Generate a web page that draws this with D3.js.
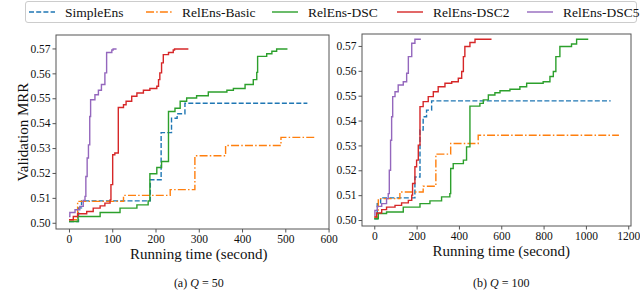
<!DOCTYPE html>
<html>
<head>
<meta charset="utf-8">
<script src="https://cdn.jsdelivr.net/npm/d3@7"></script>
<style>
  body { margin: 0; background: #fff; }
  svg { display: block; font-family: "Liberation Serif", "DejaVu Serif", serif; }
</style>
</head>
<body>
<div id="chart"></div>
<script>
const seriesNames = ["SimpleEns", "RelEns-Basic", "RelEns-DSC", "RelEns-DSC2", "RelEns-DSC5"];
const seriesColors = ["#1f77b4", "#ff7f0e", "#2ca02c", "#d62728", "#9467bd"];
const seriesDash = ["5,2.2", "8,2.2,1.5,2.2", null, null, null];

const yTicks = [0.50, 0.51, 0.52, 0.53, 0.54, 0.55, 0.56, 0.57];
const xTicksQ50 = [0, 100, 200, 300, 400, 500, 600];
const xTicksQ100 = [0, 200, 400, 600, 800, 1000, 1200];

// Q = 50, [running time, validation MRR]
const q50SimpleEns = [[0, 0.5005], [22, 0.506], [29, 0.5088], [188, 0.5173], [213, 0.5362], [237, 0.542], [250, 0.5438], [268, 0.548], [551, 0.548]];
const q50Basic = [[0, 0.5012], [20, 0.5086], [126, 0.511], [234, 0.5133], [291, 0.5269], [362, 0.531], [490, 0.5343], [569, 0.5343]];
const q50DSC = [[0, 0.5005], [21, 0.5025], [72, 0.5041], [118, 0.5059], [157, 0.5072], [183, 0.5088], [187, 0.5197], [203, 0.5222], [214, 0.5246], [230, 0.5447], [245, 0.546], [257, 0.5488], [272, 0.5501], [295, 0.551], [322, 0.5525], [365, 0.5532], [380, 0.5539], [407, 0.5555], [426, 0.5575], [434, 0.5604], [436, 0.5668], [457, 0.5679], [469, 0.5689], [480, 0.5698], [505, 0.5698]];
const q50DSC2 = [[0, 0.5012], [10, 0.5025], [20, 0.5036], [41, 0.5045], [56, 0.5059], [72, 0.5068], [83, 0.5079], [95, 0.5092], [97, 0.5153], [101, 0.5273], [106, 0.528], [114, 0.5463], [126, 0.5474], [132, 0.5488], [145, 0.5508], [157, 0.5521], [172, 0.5532], [187, 0.5539], [203, 0.5548], [207, 0.5575], [210, 0.5602], [214, 0.5642], [218, 0.5675], [230, 0.5684], [241, 0.5694], [244, 0.5698], [276, 0.5698]];
const q50DSC5 = [[0, 0.5025], [2, 0.5041], [14, 0.5052], [25, 0.5066], [33, 0.509], [37, 0.5106], [39, 0.5186], [42, 0.526], [45, 0.5313], [48, 0.5427], [50, 0.5494], [60, 0.5514], [68, 0.5532], [75, 0.5555], [83, 0.5602], [87, 0.5684], [99, 0.5694], [102, 0.5698], [110, 0.5698]];

// Q = 100
const q100SimpleEns = [[0, 0.5005], [14, 0.5066], [30, 0.5089], [192, 0.5173], [216, 0.5362], [231, 0.5415], [247, 0.5442], [271, 0.5479], [1117, 0.5479]];
const q100Basic = [[0, 0.5012], [19, 0.5086], [121, 0.5113], [231, 0.5136], [291, 0.5265], [361, 0.5308], [491, 0.5341], [1156, 0.5341]];
const q100DSC = [[0, 0.5005], [19, 0.5026], [58, 0.5032], [137, 0.5052], [216, 0.5066], [263, 0.5077], [318, 0.5093], [357, 0.5106], [361, 0.5207], [373, 0.5227], [421, 0.5241], [436, 0.5294], [452, 0.5458], [499, 0.5469], [515, 0.5483], [539, 0.5503], [570, 0.5512], [594, 0.552], [641, 0.5526], [688, 0.5536], [720, 0.555], [798, 0.5556], [830, 0.5577], [846, 0.5597], [858, 0.5657], [877, 0.5698], [932, 0.5708], [956, 0.5727], [1011, 0.5727]];
const q100DSC2 = [[0, 0.5012], [11, 0.5028], [35, 0.5042], [58, 0.5052], [98, 0.5059], [129, 0.5069], [161, 0.5079], [177, 0.51], [181, 0.5147], [192, 0.5214], [200, 0.5241], [208, 0.5301], [216, 0.5456], [231, 0.5476], [255, 0.5496], [279, 0.5516], [302, 0.5536], [334, 0.555], [366, 0.5556], [397, 0.557], [413, 0.5597], [421, 0.5657], [428, 0.5698], [452, 0.5714], [476, 0.5727], [554, 0.5727]];
const q100DSC5 = [[0, 0.5019], [3, 0.5039], [14, 0.5055], [35, 0.5066], [58, 0.5086], [66, 0.5106], [71, 0.52], [77, 0.5321], [82, 0.5415], [87, 0.5496], [98, 0.5516], [113, 0.5543], [137, 0.5556], [153, 0.559], [161, 0.5657], [177, 0.5711], [192, 0.5727], [220, 0.5727]];

const width = 640, height = 292;
const svg = d3.select("#chart").append("svg")
    .attr("width", width)
    .attr("height", height);

const panels = [
    { series: [q50SimpleEns, q50Basic, q50DSC, q50DSC2, q50DSC5], xTicks: xTicksQ50,
      xDomain: [-30, 601], yDomain: [0.4975, 0.5754], left: 56, right: 329, top: 35, bottom: 229,
      caption: ["(a) ", "Q", " = 50"] },
    { series: [q100SimpleEns, q100Basic, q100DSC, q100DSC2, q100DSC5], xTicks: xTicksQ100,
      xDomain: [-58, 1213], yDomain: [0.4976, 0.5748], left: 362, right: 631, top: 34, bottom: 226,
      caption: ["(b) ", "Q", " = 100"] }
];

panels.forEach((p, pi) => {
    const x = d3.scaleLinear().domain(p.xDomain).range([p.left, p.right]);
    const y = d3.scaleLinear().domain(p.yDomain).range([p.bottom, p.top]);

    const g = svg.append("g");

    const line = d3.line()
        .x(d => x(d[0]))
        .y(d => y(d[1]))
        .curve(d3.curveStepAfter);

    p.series.forEach((s, i) => {
        g.append("path")
            .datum(s)
            .attr("fill", "none")
            .attr("stroke", seriesColors[i])
            .attr("stroke-width", 1.4)
            .attr("stroke-dasharray", seriesDash[i])
            .attr("d", line);
    });

    g.append("rect")
        .attr("x", p.left).attr("y", p.top)
        .attr("width", p.right - p.left).attr("height", p.bottom - p.top)
        .attr("fill", "none").attr("stroke", "#555").attr("stroke-width", 1);

    const xAxis = g.append("g")
        .attr("transform", `translate(0,${p.bottom})`)
        .call(d3.axisBottom(x).tickValues(p.xTicks).tickSize(3.5).tickPadding(2).tickFormat(d3.format("d")));
    const yAxis = g.append("g")
        .attr("transform", `translate(${p.left},0)`)
        .call(d3.axisLeft(y).tickValues(yTicks).tickSize(3.5).tickPadding(2).tickFormat(d3.format(".2f")));

    [xAxis, yAxis].forEach(a => {
        a.select(".domain").remove();
        a.selectAll("line").attr("stroke", "#555");
        a.selectAll("text").attr("fill", "#111").style("font-size", "11.5px")
            .style("font-family", "'Liberation Serif', serif");
    });

    const midX = x(p.xTicks[0]) + (x(p.xTicks[p.xTicks.length - 1]) - x(p.xTicks[0])) / 2;

    g.append("text")
        .attr("x", midX)
        .attr("y", p.bottom + 30)
        .attr("text-anchor", "middle")
        .style("font-size", "15px")
        .attr("fill", "#111")
        .text("Running time (second)");

    if (pi === 0) {
        g.append("text")
            .attr("transform", `translate(28,${(p.top + p.bottom) / 2}) rotate(-90)`)
            .attr("text-anchor", "middle")
            .style("font-size", "15px")
            .attr("fill", "#111")
            .text("Validation MRR");
    }

    const cap = g.append("text")
        .attr("x", midX)
        .attr("y", 287)
        .attr("text-anchor", "middle")
        .style("font-size", "12px")
        .attr("fill", "#111");
    cap.append("tspan").text(p.caption[0]);
    cap.append("tspan").style("font-style", "italic").text(p.caption[1]);
    cap.append("tspan").text(p.caption[2]);
});

// legend
const legend = svg.append("g");
legend.append("rect")
    .attr("x", 25.5).attr("y", 1.5).attr("width", 611).attr("height", 21)
    .attr("rx", 2.5)
    .attr("fill", "#fff").attr("stroke", "#ccc").attr("stroke-width", 1);

const legendX = [29, 146, 272, 397, 527];
seriesNames.forEach((name, i) => {
    const lg = legend.append("g").attr("transform", `translate(${legendX[i]},0)`);
    lg.append("line")
        .attr("x1", 0).attr("x2", 26).attr("y1", 12).attr("y2", 12)
        .attr("stroke", seriesColors[i])
        .attr("stroke-width", 1.4)
        .attr("stroke-dasharray", seriesDash[i]);
    lg.append("text")
        .attr("x", 36).attr("y", 16.5)
        .style("font-size", "13.5px")
        .attr("fill", "#111")
        .text(name);
});
</script>
</body>
</html>
